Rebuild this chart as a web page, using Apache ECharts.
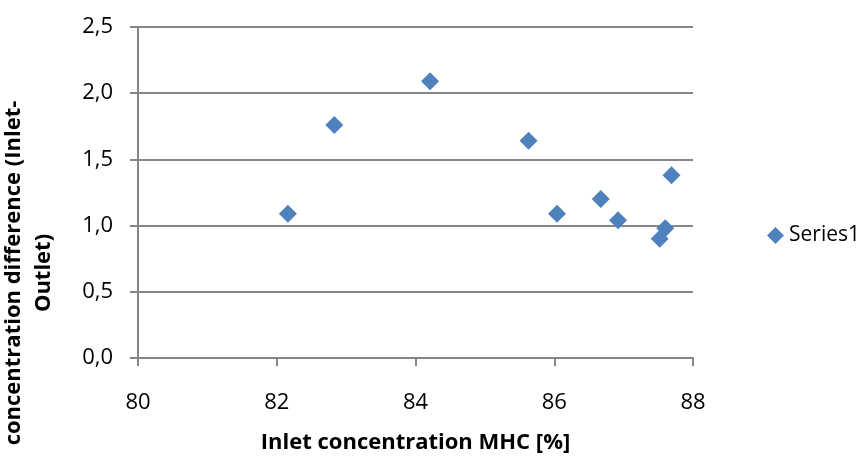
<!DOCTYPE html>
<html>
<head>
<meta charset="utf-8">
<script src="https://cdn.jsdelivr.net/npm/echarts@6/dist/echarts.min.js"></script>
<style>
  html, body { margin: 0; padding: 0; background: #ffffff; }
  #chart { width: 867px; height: 460px; }
</style>
</head>
<body>
<div id="chart"></div>
<script>
// Inlet MHC concentration [%] and the inlet-outlet concentration difference
const inletMHC = [82.16, 82.83, 84.21, 85.63, 86.04, 86.67, 86.92, 87.52, 87.60, 87.69];
const concDiff = [1.09, 1.76, 2.09, 1.64, 1.09, 1.20, 1.04, 0.90, 0.98, 1.38];
const seriesName = 'Series1';
const xTitle = 'Inlet concentration MHC [%]';
const yTitleLines = ['concentration difference (Inlet-', 'Outlet)'];

const FONT = '"Open Sans", "Liberation Sans", sans-serif';
const GRID_GRAY = '#868686';
const MARKER_BLUE = '#4F81BD';

const points = inletMHC.map((x, i) => [x, concDiff[i]]);

const chart = echarts.init(document.getElementById('chart'), null, { renderer: 'canvas' });
chart.setOption({
  backgroundColor: '#ffffff',
  animation: false,
  textStyle: { fontFamily: FONT },
  grid: { left: 138, right: 174, top: 27, bottom: 102, containLabel: false },
  legend: {
    data: [{ name: seriesName, icon: 'diamond' }],
    left: 767, top: 225, padding: 0,
    itemWidth: 17, itemHeight: 17, itemGap: 6,
    textStyle: { fontFamily: FONT, fontSize: 21, color: '#000000' }
  },
  xAxis: {
    type: 'value', min: 80, max: 88, interval: 2,
    name: xTitle, nameLocation: 'middle', nameGap: 74,
    nameTextStyle: { fontFamily: FONT, fontSize: 22, fontWeight: 'bold', color: '#000000' },
    axisLine: { show: true, lineStyle: { color: GRID_GRAY, width: 2 } },
    axisTick: { show: true, inside: false, length: 8, lineStyle: { color: GRID_GRAY, width: 2 } },
    axisLabel: { margin: 34, fontFamily: FONT, fontSize: 22, color: '#000000' },
    splitLine: { show: false }
  },
  yAxis: {
    type: 'value', min: 0, max: 2.5, interval: 0.5,
    axisLine: { show: true, lineStyle: { color: GRID_GRAY, width: 2 } },
    axisTick: { show: true, inside: false, length: 8, lineStyle: { color: GRID_GRAY, width: 2 } },
    axisLabel: {
      margin: 25, fontFamily: FONT, fontSize: 22, color: '#000000',
      formatter: v => v.toFixed(1).replace('.', ',')
    },
    splitLine: { show: true, lineStyle: { color: GRID_GRAY, width: 2 } }
  },
  graphic: [{
    type: 'text',
    x: 29, y: 273,
    rotation: Math.PI / 2,
    style: {
      text: yTitleLines.join('\n'),
      font: 'bold 22px ' + FONT,
      fill: '#000000',
      align: 'center',
      verticalAlign: 'middle',
      lineHeight: 30
    }
  }],
  series: [{
    name: seriesName,
    type: 'scatter',
    symbol: 'diamond',
    symbolSize: 18,
    itemStyle: { color: MARKER_BLUE, opacity: 1 },
    data: points
  }]
});
</script>
</body>
</html>
